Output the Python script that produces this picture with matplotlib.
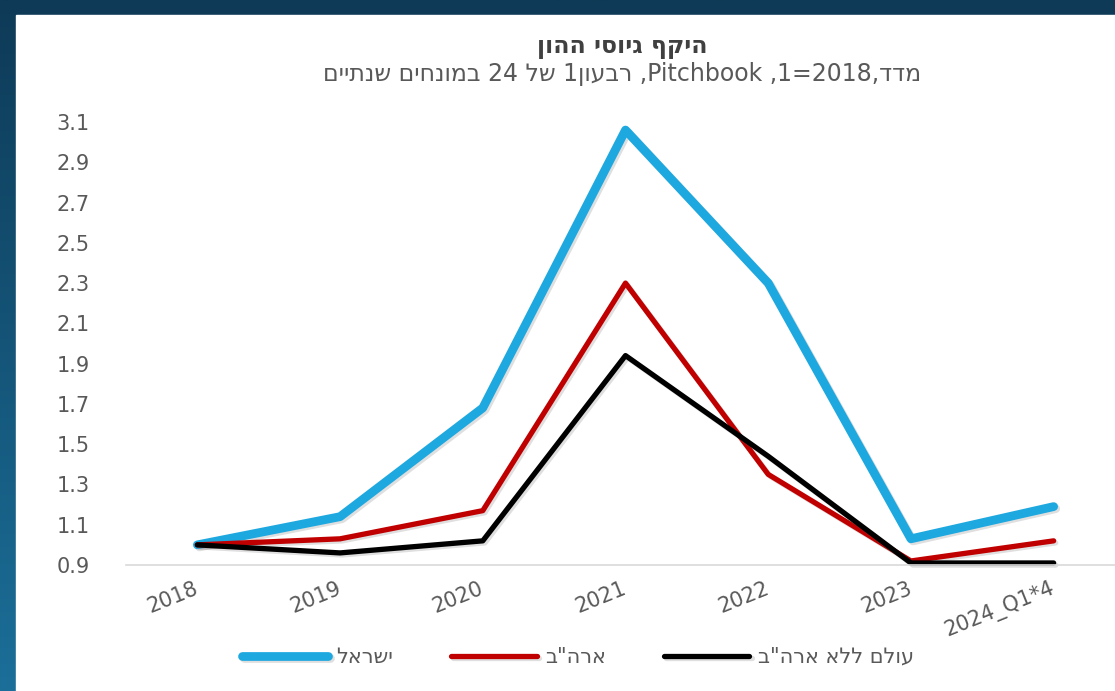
import re
import numpy as np
import matplotlib
matplotlib.use('Agg')
import matplotlib.pyplot as plt
import matplotlib.patheffects as pe
from matplotlib.colors import LinearSegmentedColormap
from matplotlib.patches import Rectangle
from matplotlib.transforms import ScaledTranslation

plt.rcParams['font.family'] = ['DejaVu Sans']

# data (index, 2018 = 1)
years = ['2018', '2019', '2020', '2021', '2022', '2023', '2024_Q1*4']
israel = [1.00, 1.14, 1.68, 3.06, 2.30, 1.03, 1.19]
usa = [1.00, 1.03, 1.17, 2.30, 1.35, 0.92, 1.02]
world_ex_us = [1.00, 0.96, 1.02, 1.94, 1.44, 0.91, 0.91]
yticks = [0.9, 1.1, 1.3, 1.5, 1.7, 1.9, 2.1, 2.3, 2.5, 2.7, 2.9, 3.1]

title = 'היקף גיוסי ההון'
subtitle = 'מדד,2018=1, Pitchbook, רבעון1 של 24 במונחים שנתיים'
names = ['ישראל', 'ארה"ב', 'עולם ללא ארה"ב']
colors = ['#1ea8e0', '#c00000', '#000000']
widths = [6.3, 3.8, 3.8]


def heb(s):
    # matplotlib has no bidi: lay hebrew out right to left by hand
    r = s[::-1]
    return re.sub(r'[A-Za-z0-9_.*]+', lambda m: m.group(0)[::-1], r)


W, H = 1115, 691
fig = plt.figure(figsize=(W / 100, H / 100), dpi=100)

# dark blue frame with white panel
bg = fig.add_axes([0, 0, 1, 1], zorder=-10)
cmap = LinearSegmentedColormap.from_list('bg', ['#0e3a57', '#1b6f99'])
bg.imshow(np.linspace(0, 1, 256).reshape(-1, 1), aspect='auto', cmap=cmap,
          extent=[0, 1, 0, 1], origin='upper')
bg.add_patch(Rectangle((16 / W, 0), 1, 676 / H, color='white', zorder=2))
bg.set_xlim(0, 1)
bg.set_ylim(0, 1)
bg.set_axis_off()

ax = fig.add_axes([126 / W, 126 / H, 999 / W, 443 / H])
ax.patch.set_alpha(0)

x = np.arange(len(years))
shadow = [pe.SimpleLineShadow(offset=(1.5, -1.5), alpha=0.25, shadow_color='gray'), pe.Normal()]
handles = []
for vals, name, c, lw in zip([israel, usa, world_ex_us], names, colors, widths):
    ln, = ax.plot(x, vals, color=c, lw=lw, solid_joinstyle='round',
                  solid_capstyle='round', clip_on=False, path_effects=shadow,
                  label=heb(name))
    handles.append(ln)

ax.set_xlim(-0.5, 6.5)
ax.set_ylim(0.9, 3.1)
ax.set_yticks(yticks)
ax.set_yticklabels(['%.1f' % v for v in yticks])
ax.set_xticks(x)
ax.set_xticklabels(years, rotation=22, ha='right', va='center', rotation_mode='anchor')
for lbl in ax.get_xticklabels():
    lbl.set_transform(lbl.get_transform() + ScaledTranslation(0.25, 0, fig.dpi_scale_trans))

for side in ['top', 'right', 'left']:
    ax.spines[side].set_visible(False)
ax.spines['bottom'].set_color('#d9d9d9')
ax.spines['bottom'].set_linewidth(1.2)
ax.tick_params(axis='y', length=0, pad=26, labelsize=15, labelcolor='#595959')
ax.tick_params(axis='x', length=0, pad=16, labelsize=15, labelcolor='#595959')

fig.text(622 / W, 1 - 53 / H, heb(title), ha='center', va='baseline',
         fontsize=17, fontweight='bold', color='#404040')
fig.text(622 / W, 1 - 81 / H, heb(subtitle), ha='center', va='baseline',
         fontsize=17, color='#595959')

fig.legend(handles=handles, ncol=3, loc='center', bbox_to_anchor=(578 / W, 1 - 657 / H),
           frameon=False, fontsize=15, labelcolor='#595959', handlelength=4.1,
           handletextpad=0.4, columnspacing=2.8)

fig.savefig('out.png', dpi=100)
